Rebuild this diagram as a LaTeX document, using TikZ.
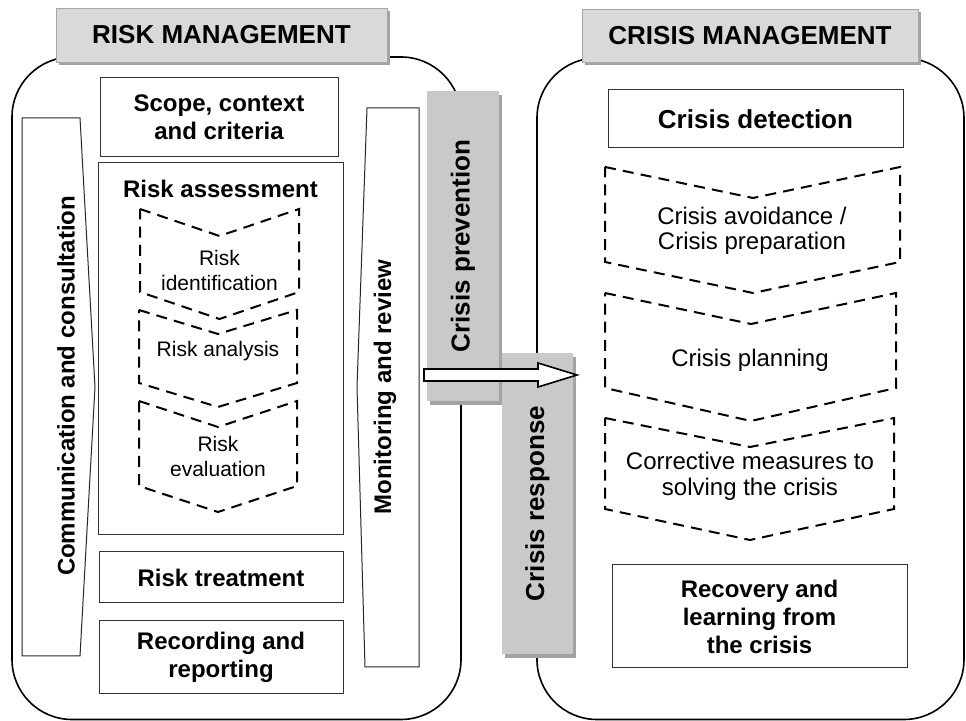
\documentclass[tikz,border=0pt]{standalone}
\usepackage{fontspec}
\setmainfont{Liberation Sans}
\usetikzlibrary{shadows}

\definecolor{headgray}{HTML}{D9D9D9}
\definecolor{bargray}{HTML}{C9C9C9}
\definecolor{shadegray}{HTML}{A3A3A3}

\begin{document}
\begin{tikzpicture}[x=0.5pt,y=-0.5pt]
\useasboundingbox (0,0) rectangle (966,721);

%style for the two rounded frames
\tikzstyle{frame} = [draw=black, line width=0.8pt, rounded corners=30pt]

%style for the title boxes
\tikzstyle{title} = [rectangle, fill=headgray, draw=gray!70, line width=0.4pt,
  drop shadow={shadow xshift=1.5pt, shadow yshift=-1.5pt, fill=shadegray, opacity=1},
  font=\fontsize{13}{15}\selectfont\bfseries]

%style for the gray bars between the frames
\tikzstyle{bar} = [rectangle, fill=bargray, draw=none,
  drop shadow={shadow xshift=1.5pt, shadow yshift=-2pt, fill=shadegray, opacity=1},
  font=\fontsize{13}{15}\selectfont\bfseries]

%style for plain step boxes
\tikzstyle{box} = [rectangle, fill=white, draw=black!80, line width=0.5pt, align=center,
  inner sep=0pt, font=\fontsize{12}{14}\selectfont\bfseries]

%style for the side arrows
\tikzstyle{side} = [draw=black!85, line width=0.5pt, fill=white]

%style for dashed chevrons and their text
\tikzstyle{chev} = [draw=black, line width=1pt, dash pattern=on 5.5pt off 3.6pt]
\tikzstyle{smalltxt} = [align=center, font=\fontsize{10.5}{12.5}\selectfont]
\tikzstyle{midtxt} = [align=center, font=\fontsize{12}{12.8}\selectfont]

%frames
\draw[frame] (12,57) rectangle (461,719.5);
\draw[frame] (537,58) rectangle (964,719.5);

%titles
\node[title, minimum width=165.5pt, minimum height=27pt] (riskTitle) at (221.5,35) {RISK MANAGEMENT};
\node[title, minimum width=168pt, minimum height=26.5pt] (crisisTitle) at (750,35.5) {CRISIS MANAGEMENT};

%side arrows of the risk process
\draw[side] (22,118) -- (80,118) -- (95,387) -- (80,656) -- (22,656) -- cycle;
\draw[side] (419,108) -- (367,108) -- (357,387) -- (365,667) -- (419,667) -- cycle;
\node[rotate=90, font=\fontsize{12}{14}\selectfont\bfseries] (comm) at (66,386) {Communication and consultation};
\node[rotate=90, font=\fontsize{12}{14}\selectfont\bfseries] (monitor) at (385,387) {Monitoring and review};

%risk process boxes
\node[box, minimum width=119pt, minimum height=39.5pt] (scope) at (219,117.5) {Scope, context\\and criteria};
\node[box, minimum width=122.5pt, minimum height=186pt] (assess) at (220.5,349) {};
\node[font=\fontsize{12}{14}\selectfont\bfseries] (assessTxt) at (220.5,189) {Risk assessment};
\node[box, minimum width=122pt, minimum height=25.5pt] (treat) at (221,577.5) {Risk treatment};
\node[box, minimum width=122pt, minimum height=36.5pt] (record) at (221,657.5) {Recording and\\reporting};

%assessment steps
\draw[chev] (140,209) -- (219.5,236) -- (299,209) -- (299,292) -- (219.5,319) -- (140,292) -- cycle;
\draw[chev] (139,310) -- (218,334) -- (297,310) -- (297,383) -- (218,407) -- (139,383) -- cycle;
\draw[chev] (139,401) -- (218,427) -- (297,401) -- (297,486) -- (218,512) -- (139,486) -- cycle;
\node[smalltxt] (ident) at (219.5,270) {Risk\\identification};
\node[smalltxt] (analysis) at (218,351) {Risk analysis};
\node[smalltxt] (evaluation) at (218,456) {Risk\\evaluation};

%crisis process boxes
\node[box, minimum width=147.5pt, minimum height=29pt, font=\fontsize{13}{15}\selectfont\bfseries] (detect) at (755.5,119) {Crisis detection};
\node[box, minimum width=147.5pt, minimum height=51.5pt] (recover) at (759.5,616.5) {Recovery and\\learning from\\the crisis};

%crisis steps
\draw[chev] (605,167) -- (753,198) -- (900,167) -- (900,262) -- (753,293) -- (605,262) -- cycle;
\draw[chev] (605,293) -- (751,324) -- (896,293) -- (896,388) -- (751,421) -- (605,388) -- cycle;
\draw[chev] (605,418) -- (750,447) -- (894,418) -- (894,509) -- (750,540) -- (605,509) -- cycle;
\node[midtxt] (avoid) at (752,231) {Crisis avoidance /\\Crisis preparation};
\node[midtxt] (planning) at (750,360) {Crisis planning};
\node[midtxt] (corrective) at (750,476) {Corrective measures to\\solving the crisis};

%bars between the frames
\node[bar, minimum width=36pt, minimum height=155pt] (prevent) at (463,246) {\rotatebox{90}{Crisis prevention}};
\node[bar, minimum width=35.5pt, minimum height=150.5pt] (response) at (537.5,503.5) {\rotatebox{90}{Crisis response}};

%block arrow from prevention to response
\draw[draw=black, line width=0.8pt, fill=white] (424,369) -- (538,369) -- (538,363) -- (577,375)
  -- (538,387) -- (538,381) -- (424,381) -- cycle;
\end{tikzpicture}
\end{document}
